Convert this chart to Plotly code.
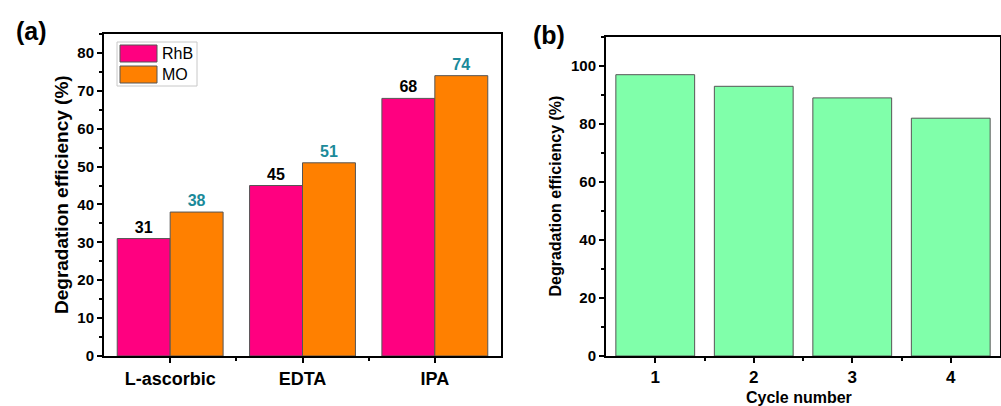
import plotly.graph_objects as go

# Panel (a): scavenger experiment
scavengers = ["L-ascorbic", "EDTA", "IPA"]
series_names = ["RhB", "MO"]
rhb_values = [31, 45, 68]
mo_values = [38, 51, 74]

# Panel (b): recycling test
cycles = [1, 2, 3, 4]
cycle_values = [97, 93, 89, 82]

W, H = 1001, 406
FONT = "Liberation Sans, Arial, sans-serif"
PINK = "#ff0080"
ORANGE = "#ff8000"
GREEN = "#80ffaa"
TEAL = "#1b8a9a"
EDGE = "#555555"


def px_x(x):
    return x / W


def px_y(y):
    return 1 - y / H


def bold(s):
    return f"<b>{s}</b>"


xs = list(range(len(scavengers)))

fig = go.Figure()
fig.add_trace(go.Bar(
    x=xs, y=rhb_values, name=series_names[0], xaxis="x", yaxis="y",
    marker=dict(color=PINK, line=dict(color=EDGE, width=1)),
    text=[bold(v) for v in rhb_values], textposition="outside",
    textfont=dict(family=FONT, size=16, color="black"),
    cliponaxis=False, showlegend=False,
))
fig.add_trace(go.Bar(
    x=xs, y=mo_values, name=series_names[1], xaxis="x", yaxis="y",
    marker=dict(color=ORANGE, line=dict(color=EDGE, width=1)),
    text=[bold(v) for v in mo_values], textposition="outside",
    textfont=dict(family=FONT, size=16, color=TEAL),
    cliponaxis=False, showlegend=False,
))
fig.add_trace(go.Bar(
    x=cycles, y=cycle_values, xaxis="x2", yaxis="y2", width=0.8,
    marker=dict(color=GREEN, line=dict(color=EDGE, width=1)),
    showlegend=False,
))

axis_common = dict(
    showline=True, linecolor="black", linewidth=2, mirror=True,
    ticks="outside", ticklen=5, tickwidth=1.5, tickcolor="black",
    showgrid=False, zeroline=False, automargin=False,
)

fig.update_layout(
    width=W, height=H,
    margin=dict(l=0, r=0, t=0, b=0),
    paper_bgcolor="white", plot_bgcolor="white",
    font=dict(family=FONT, color="black"),
    barmode="group", bargap=0.2, bargroupgap=0,
    xaxis=dict(
        domain=[px_x(104), px_x(501)], range=[-0.5, 2.5],
        tickmode="array", tickvals=xs, ticktext=[bold(s) for s in scavengers],
        tickfont=dict(size=18, family=FONT),
        minor=dict(tickmode="array", tickvals=[0.5, 1.5], ticks="outside",
                   ticklen=3, tickwidth=1.5, tickcolor="black"),
        anchor="y", **axis_common,
    ),
    yaxis=dict(
        domain=[px_y(356), px_y(34)], range=[0, 85],
        tickmode="array", tickvals=list(range(0, 81, 10)),
        ticktext=[bold(v) for v in range(0, 81, 10)],
        tickfont=dict(size=15, family=FONT),
        minor=dict(tickmode="linear", tick0=5, dtick=10, ticks="outside",
                   ticklen=3, tickwidth=1.5, tickcolor="black"),
        anchor="x", **axis_common,
    ),
    xaxis2=dict(
        domain=[px_x(606), px_x(1000)], range=[0.5, 4.5],
        tickmode="array", tickvals=cycles, ticktext=[bold(c) for c in cycles],
        tickfont=dict(size=17, family=FONT),
        minor=dict(tickmode="array", tickvals=[1.5, 2.5, 3.5], ticks="outside",
                   ticklen=3, tickwidth=1.5, tickcolor="black"),
        anchor="y2", **axis_common,
    ),
    yaxis2=dict(
        domain=[px_y(356), px_y(37)], range=[0, 110],
        tickmode="array", tickvals=list(range(0, 101, 20)),
        ticktext=[bold(v) for v in range(0, 101, 20)],
        tickfont=dict(size=15, family=FONT),
        minor=dict(tickmode="linear", tick0=10, dtick=20, ticks="outside",
                   ticklen=3, tickwidth=1.5, tickcolor="black"),
        anchor="x2", **axis_common,
    ),
)

# Legend box for panel (a)
shapes = [
    dict(type="rect", xref="paper", yref="paper",
         x0=px_x(117), x1=px_x(197), y0=px_y(86), y1=px_y(42),
         line=dict(color="#c8c8c8", width=1), fillcolor="white"),
    dict(type="rect", xref="paper", yref="paper",
         x0=px_x(120), x1=px_x(157), y0=px_y(62), y1=px_y(45),
         line=dict(color=EDGE, width=1), fillcolor=PINK),
    dict(type="rect", xref="paper", yref="paper",
         x0=px_x(120), x1=px_x(157), y0=px_y(83), y1=px_y(66),
         line=dict(color=EDGE, width=1), fillcolor=ORANGE),
]
annotations = [
    dict(text=series_names[0], xref="paper", yref="paper", x=px_x(160), y=px_y(53.5),
         xanchor="left", yanchor="middle", showarrow=False,
         font=dict(size=16, family=FONT, color="black")),
    dict(text=series_names[1], xref="paper", yref="paper", x=px_x(160), y=px_y(74.5),
         xanchor="left", yanchor="middle", showarrow=False,
         font=dict(size=16, family=FONT, color="black")),
    dict(text=bold("(a)"), xref="paper", yref="paper", x=px_x(14), y=px_y(31),
         xanchor="left", yanchor="middle", showarrow=False,
         font=dict(size=25, family=FONT, color="black")),
    dict(text=bold("(b)"), xref="paper", yref="paper", x=px_x(531), y=px_y(35),
         xanchor="left", yanchor="middle", showarrow=False,
         font=dict(size=25, family=FONT, color="black")),
    # axis titles
    dict(text=bold("Degradation efficiency (%)"), xref="paper", yref="y domain",
         x=px_x(61), y=0.5, textangle=-90, xanchor="center", yanchor="middle",
         showarrow=False, font=dict(size=19, family=FONT, color="black")),
    dict(text=bold("Degradation efficiency (%)"), xref="paper", yref="y2 domain",
         x=px_x(555), y=0.5, textangle=-90, xanchor="center", yanchor="middle",
         showarrow=False, font=dict(size=16, family=FONT, color="black")),
    dict(text=bold("Cycle number"), xref="x2 domain", yref="paper", x=0.49, y=px_y(397),
         xanchor="center", yanchor="middle", showarrow=False,
         font=dict(size=16, family=FONT, color="black")),
]
fig.update_layout(shapes=shapes, annotations=annotations)

fig.write_html("out.html")
